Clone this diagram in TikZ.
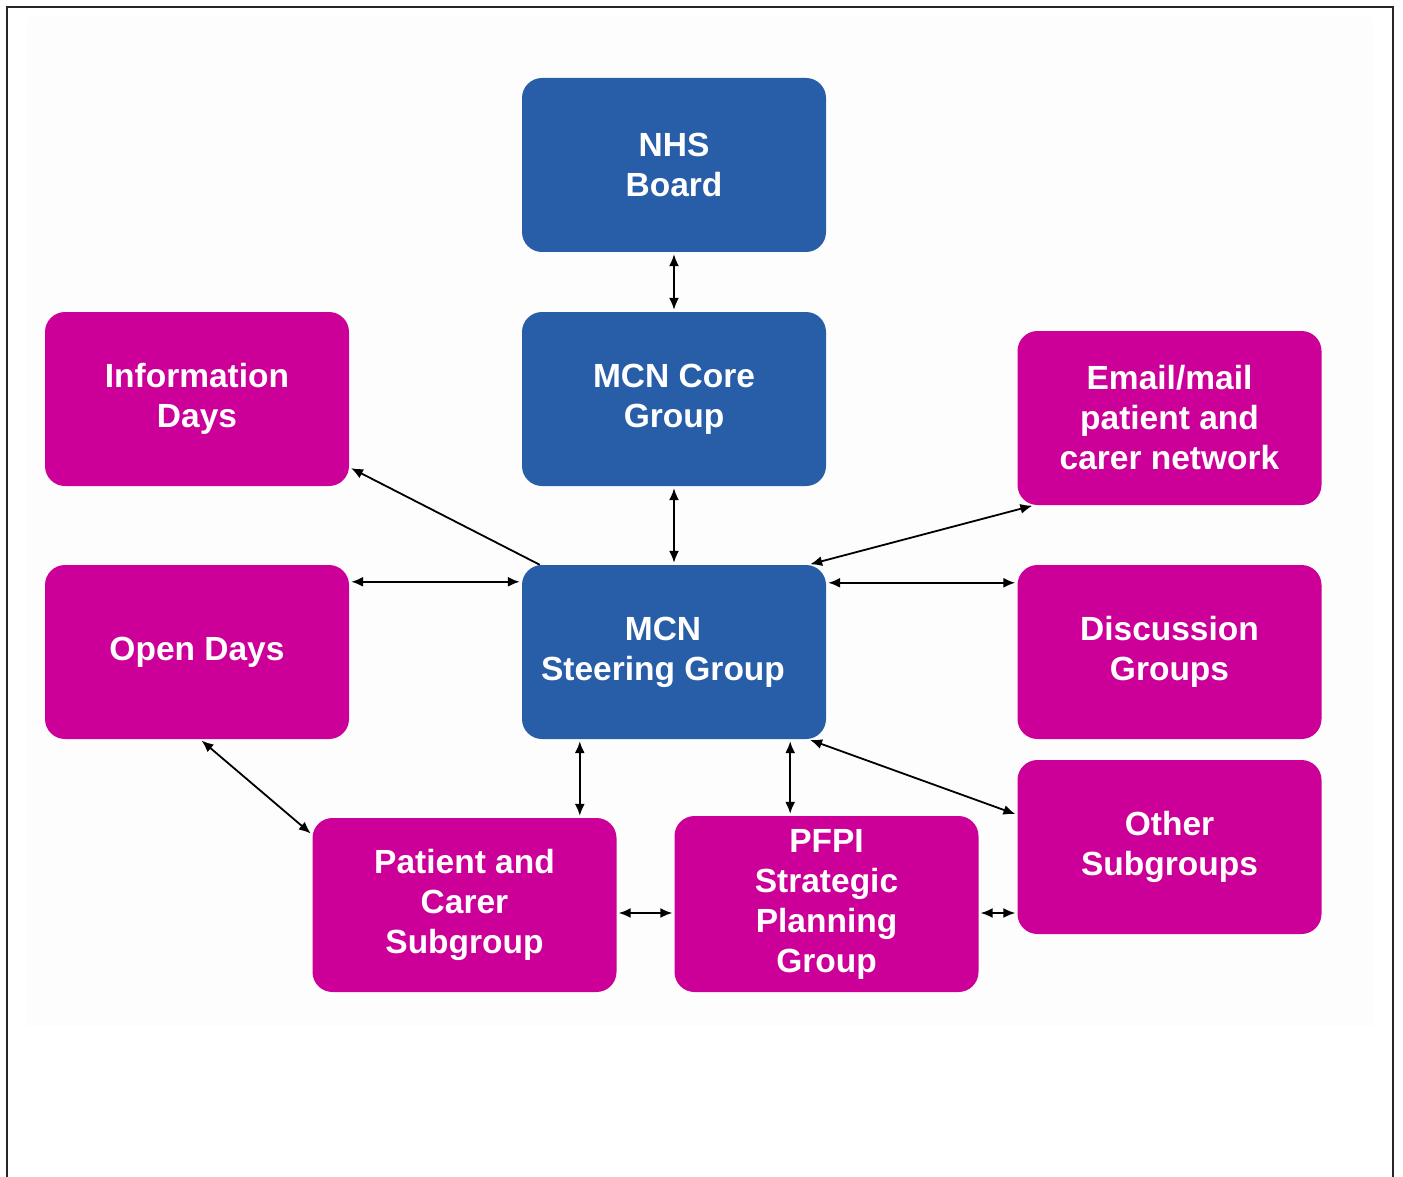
\documentclass[tikz,border=0pt]{standalone}
\usepackage{fontspec}
\setmainfont{Liberation Sans}
\usetikzlibrary{arrows.meta}
\definecolor{nhsblue}{RGB}{40,93,168}
\definecolor{nhsmag}{RGB}{204,0,153}
\definecolor{bgpale}{RGB}{253,253,253}
\tikzset{
  box/.style={rounded corners=20pt, minimum width=304pt, minimum height=174pt,
    inner sep=0pt, text=white, align=center,
    font=\bfseries\fontsize{33.5}{40}\selectfont},
  bluebox/.style={box, fill=nhsblue},
  magbox/.style={box, fill=nhsmag},
  link/.style={line width=1.8pt, draw=black, shorten <=2pt, shorten >=2pt},
  both/.style={link, {Latex[length=12pt,width=10pt]}-{Latex[length=12pt,width=10pt]}},
  onehead/.style={link, -{Latex[length=12pt,width=10pt]}}
}
\begin{document}
\begin{tikzpicture}[x=1pt,y=-1pt]
\useasboundingbox (0,0) rectangle (1403,1177);
\fill[bgpale] (27,17) rectangle (1373,1026);
\draw[line width=2.6pt, black!85] (7,1177) -- (7,7) -- (1393,7) -- (1393,1177);

\node[bluebox] (nhs) at (674,165) {NHS\\Board};
\node[bluebox] (core) at (674,399) {MCN Core\\Group};
\node[bluebox] (steer) at (674,652) {};
\node[text=white, align=center, font=\bfseries\fontsize{33.5}{40}\selectfont] (steertext) at (663,652) {MCN\\Steering Group};
\node[magbox] (info) at (197,399) {Information\\Days};
\node[magbox] (open) at (197,652) {Open Days};
\node[magbox] (email) at (1169.5,418) {Email/mail\\patient and\\carer network};
\node[magbox] (disc) at (1169.5,652) {Discussion\\Groups};
\node[magbox] (other) at (1169.5,847) {Other\\Subgroups};
\node[magbox] (patient) at (464.5,905) {Patient and\\Carer\\Subgroup};
\node[magbox, minimum height=176pt] (pfpi) at (826.5,904) {PFPI\\Strategic\\Planning\\Group};

% connectors
\draw[both] (nhs.south) -- (core.north);
\draw[both] (core.south) -- (steer.north);
\draw[onehead, shorten <=0pt] ([xshift=18pt]steer.north west) -- ([yshift=19pt]info.south east);
\draw[both] ([yshift=-17pt]open.north east) -- ([yshift=-17pt]steer.north west);
\draw[both] ([xshift=-18pt]steer.north east) -- ([xshift=17pt]email.south west);
\draw[both] ([yshift=-18pt]steer.north east) -- ([yshift=-18pt]disc.north west);
\draw[both] ([xshift=-18pt]steer.south east) -- ([yshift=-55pt]other.north west);
\coordinate (s1) at ([xshift=58pt]steer.south west);
\draw[both] (s1) -- (s1 |- patient.north);
\coordinate (s2) at ([xshift=-36pt]steer.south east);
\draw[both] (s2) -- (s2 |- pfpi.north);
\draw[both] ([xshift=3pt]open.south) -- ([yshift=-17pt]patient.north west);
\coordinate (p1) at ([yshift=-8pt]patient.east);
\draw[both] (p1) -- (p1 -| pfpi.west);
\coordinate (p2) at ([yshift=-9pt]pfpi.east);
\draw[both] (p2) -- (p2 -| other.west);
\end{tikzpicture}
\end{document}
